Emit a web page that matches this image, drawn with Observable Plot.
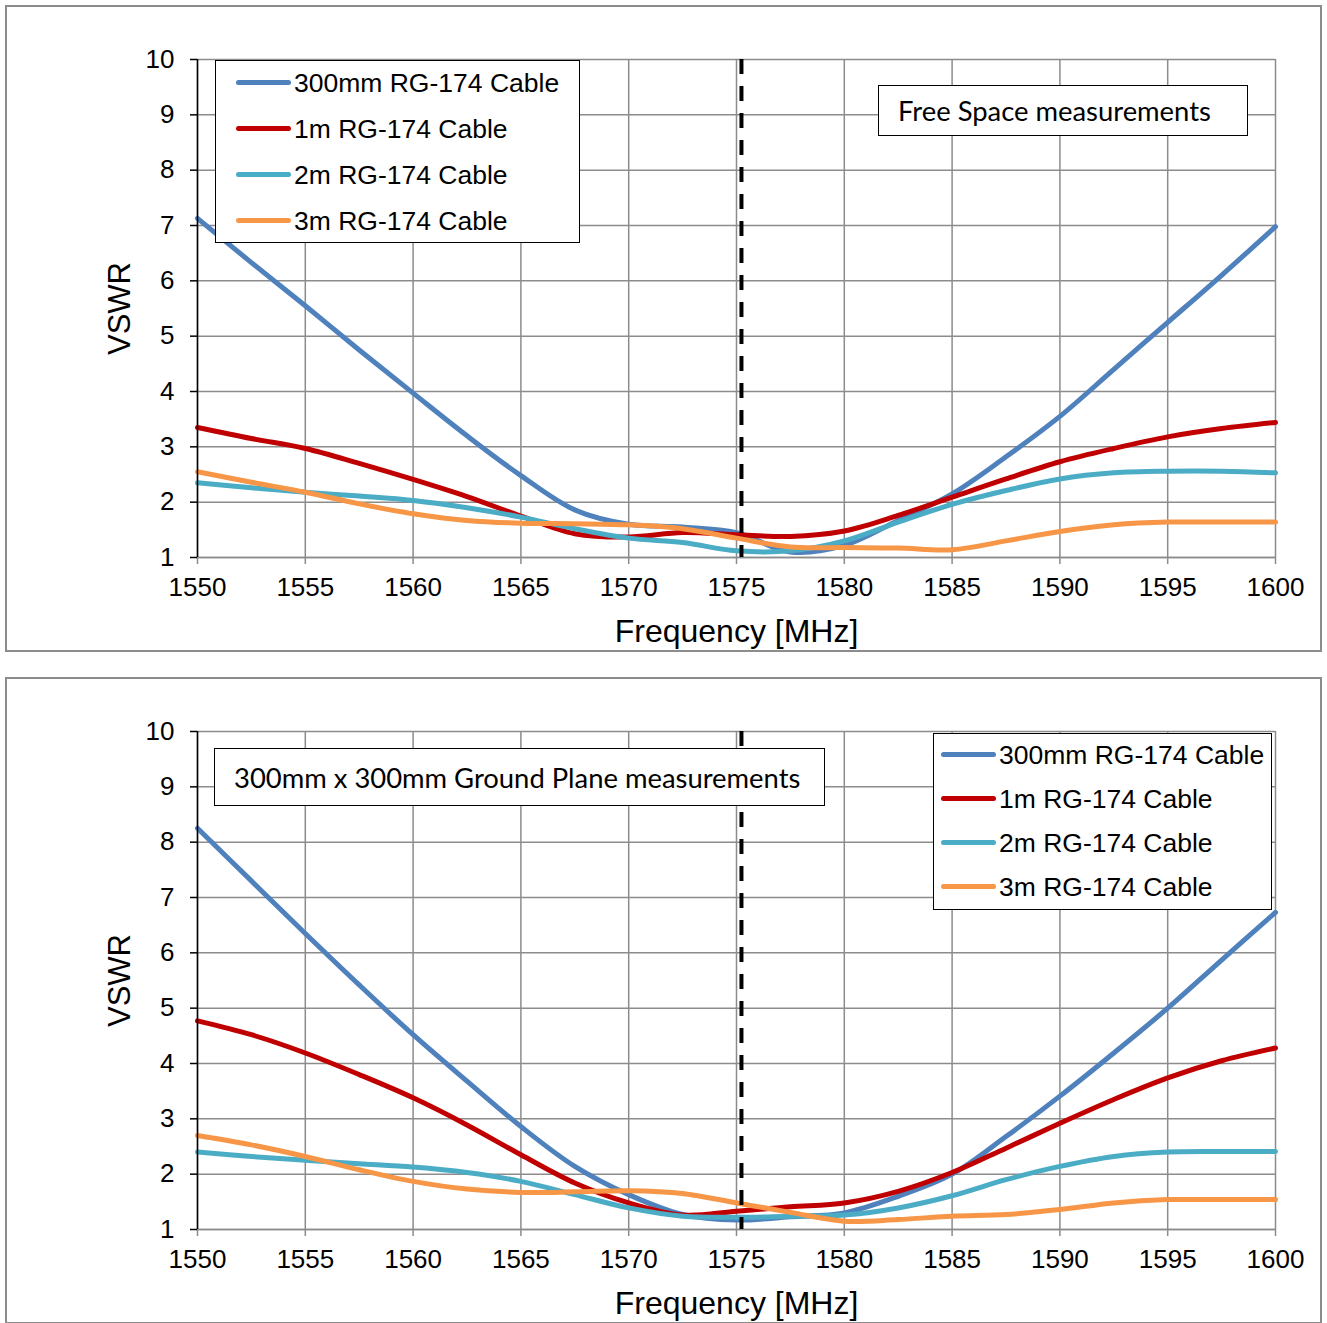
<!DOCTYPE html>
<html>
<head>
<meta charset="utf-8">
<script src="https://cdn.jsdelivr.net/npm/d3@7"></script>
<script src="https://cdn.jsdelivr.net/npm/@observablehq/plot@0.6"></script>
<style>
  html, body { margin: 0; padding: 0; background: #fff; }
  body { width: 1327px; height: 1323px; position: relative; overflow: hidden; }
  .panel { position: absolute; left: 5px; width: 1313px; height: 643px; border: 2px solid #8c8c8c; background: #fff; }
  .panel svg { position: absolute; left: 0; top: 0; }
  .legend { position: absolute; box-sizing: border-box; border: 1.5px solid #000; background: #fff;
            font-family: "Liberation Sans", Arial, sans-serif; font-size: 26.5px; color: #000; }
  .legend .row { position: absolute; left: 0; height: 0; }
  .legend .sw { position: absolute; height: 5px; border-radius: 3px; top: -2.5px; }
  .legend .lb { position: absolute; top: 0; transform: translateY(-50%); white-space: nowrap; line-height: 1; }
  .note { position: absolute; box-sizing: border-box; border: 1.5px solid #000; background: #fff;
          font-family: Lato, "Open Sans", sans-serif; font-size: 27.4px; color: #000; white-space: nowrap;
          display: flex; align-items: center; }
</style>
</head>
<body>
<script>
// ---- data ----
const freq = [1550, 1552.5, 1555, 1557.5, 1560, 1562.5, 1565, 1567.5, 1570, 1572.5, 1575,
              1577.5, 1580, 1582.5, 1585, 1587.5, 1590, 1592.5, 1595, 1597.5, 1600];
const seriesNames = ["300mm RG-174 Cable", "1m RG-174 Cable", "2m RG-174 Cable", "3m RG-174 Cable"];
const seriesColors = ["#4F81BD", "#C00000", "#4BACC6", "#F79646"];
const xTicks = [1550, 1555, 1560, 1565, 1570, 1575, 1580, 1585, 1590, 1595, 1600];
const yTicks = [1, 2, 3, 4, 5, 6, 7, 8, 9, 10];
const gpsL1 = 1575.23;

// Free Space measurements
const free300mm = [7.13, 6.33, 5.55, 4.75, 3.97, 3.20, 2.48, 1.86, 1.60, 1.55, 1.45,
                   1.10, 1.22, 1.67, 2.15, 2.82, 3.55, 4.40, 5.25, 6.10, 6.98];
const free1m    = [3.35, 3.15, 2.97, 2.70, 2.41, 2.10, 1.75, 1.43, 1.37, 1.45, 1.41,
                   1.38, 1.48, 1.76, 2.09, 2.42, 2.73, 2.97, 3.18, 3.33, 3.44];
const free2m    = [2.35, 2.26, 2.18, 2.11, 2.03, 1.90, 1.73, 1.52, 1.35, 1.27, 1.12,
                   1.12, 1.30, 1.64, 1.96, 2.21, 2.42, 2.53, 2.56, 2.56, 2.53];
const free3m    = [2.55, 2.36, 2.18, 1.97, 1.79, 1.67, 1.62, 1.61, 1.59, 1.52, 1.35,
                   1.19, 1.18, 1.17, 1.14, 1.30, 1.47, 1.59, 1.64, 1.64, 1.64];

// 300mm x 300mm Ground Plane measurements
const gp300mm = [8.25, 7.30, 6.35, 5.42, 4.52, 3.68, 2.86, 2.14, 1.63, 1.27, 1.17,
                 1.23, 1.30, 1.60, 2.00, 2.68, 3.41, 4.19, 5.00, 5.87, 6.73];
const gp1m    = [4.77, 4.52, 4.19, 3.80, 3.38, 2.89, 2.35, 1.84, 1.48, 1.26, 1.33,
                 1.41, 1.48, 1.69, 2.03, 2.47, 2.92, 3.35, 3.74, 4.05, 4.28];
const gp2m    = [2.40, 2.32, 2.25, 2.19, 2.13, 2.03, 1.87, 1.63, 1.39, 1.24, 1.22,
                 1.24, 1.26, 1.39, 1.61, 1.90, 2.14, 2.32, 2.40, 2.41, 2.41];
const gp3m    = [2.70, 2.53, 2.32, 2.08, 1.87, 1.73, 1.67, 1.68, 1.70, 1.65, 1.48,
                 1.31, 1.15, 1.18, 1.24, 1.27, 1.36, 1.48, 1.54, 1.54, 1.54];

const panels = [
  {top: 5, series: [free300mm, free1m, free2m, free3m], note: "Free Space measurements",
   noteBox: {left: 871, top: 78, width: 370, height: 51},
   legendBox: {left: 208, top: 53, width: 365, height: 183, row0: 23, step: 46, swX: 20, txX: 78}},
  {top: 677, series: [gp300mm, gp1m, gp2m, gp3m], note: "300mm x 300mm Ground Plane measurements",
   noteBox: {left: 207, top: 69, width: 611, height: 58},
   legendBox: {left: 926, top: 54, width: 339, height: 177, row0: 22, step: 44, swX: 7, txX: 65}}
];

function makeChart(seriesValues) {
  const data = seriesValues.flatMap((vals, i) => freq.map((f, j) => ({f, v: vals[j], s: seriesNames[i]})));
  return Plot.plot({
    width: 1313, height: 643,
    marginLeft: 190, marginRight: 45, marginTop: 52, marginBottom: 93,
    style: {fontFamily: '"Liberation Sans", Arial, sans-serif', fontSize: "26px", color: "#000", background: "transparent"},
    x: {domain: [1550, 1600]},
    y: {domain: [1, 10]},
    color: {domain: seriesNames, range: seriesColors},
    marks: [
      Plot.gridX(xTicks, {stroke: "#8c8c8c", strokeOpacity: 1, strokeWidth: 1.5}),
      Plot.gridY(yTicks, {stroke: "#8c8c8c", strokeOpacity: 1, strokeWidth: 1.5}),
      Plot.axisX(xTicks, {tickSize: 7, tickPadding: 13, stroke: "#8c8c8c", strokeWidth: 1.5, fontSize: 26, label: null, tickFormat: d => String(d)}),
      Plot.ruleY([1], {stroke: "#8c8c8c", strokeWidth: 1.5}),
      Plot.line(data, {x: "f", y: "v", stroke: "s", z: "s", curve: "catmull-rom", strokeWidth: 5, strokeLinecap: "round", strokeLinejoin: "round"}),
      Plot.ruleX([gpsL1], {stroke: "#000", strokeWidth: 4, strokeDasharray: "15,12"}),
      Plot.ruleX([1550], {stroke: "#000", strokeWidth: 1.5}),
      Plot.axisY(yTicks, {tickSize: 7, tickPadding: 16, stroke: "#000", strokeWidth: 1.5, fontSize: 26, label: null, tickFormat: d => String(d)}),
      Plot.text(["Frequency [MHz]"], {frameAnchor: "bottom", lineAnchor: "middle", textAnchor: "middle", dy: 74, fontSize: 32}),
      Plot.text(["VSWR"], {frameAnchor: "left", lineAnchor: "middle", textAnchor: "middle", rotate: -90, dx: -77, fontSize: 31})
    ]
  });
}

for (const p of panels) {
  const div = document.createElement("div");
  div.className = "panel";
  div.style.top = p.top + "px";
  document.body.appendChild(div);
  div.appendChild(makeChart(p.series));

  const lg = document.createElement("div");
  lg.className = "legend";
  const L = p.legendBox;
  Object.assign(lg.style, {left: L.left + "px", top: L.top + "px", width: L.width + "px", height: L.height + "px"});
  seriesNames.forEach((name, i) => {
    const row = document.createElement("div");
    row.className = "row";
    row.style.top = (L.row0 + i * L.step - 1.5) + "px";
    const sw = document.createElement("div");
    sw.className = "sw";
    Object.assign(sw.style, {left: L.swX + "px", width: "55px", background: seriesColors[i]});
    const lb = document.createElement("div");
    lb.className = "lb";
    lb.style.left = L.txX + "px";
    lb.textContent = name;
    row.appendChild(sw); row.appendChild(lb);
    lg.appendChild(row);
  });
  div.appendChild(lg);

  const nt = document.createElement("div");
  nt.className = "note";
  const N = p.noteBox;
  Object.assign(nt.style, {left: N.left + "px", top: N.top + "px", width: N.width + "px", height: N.height + "px", paddingLeft: "19px"});
  nt.textContent = p.note;
  div.appendChild(nt);
}
</script>
</body>
</html>
